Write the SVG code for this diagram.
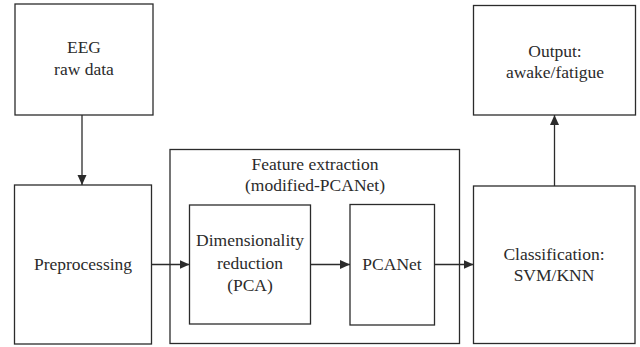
<svg xmlns="http://www.w3.org/2000/svg" width="640" height="347" viewBox="0 0 640 347">
  <style>
    .box { fill: #ffffff; stroke: #2b2b2b; stroke-width: 1.3; }
    text { font-family: "Liberation Serif", "DejaVu Serif", "Times New Roman", serif; font-size: 17.5px; fill: #2b2b2b; text-anchor: middle; }
    .conn { stroke: #2b2b2b; stroke-width: 1.3; fill: none; marker-end: url(#arrow); }
  </style>
  <defs>
    <marker id="arrow" viewBox="0 0 10 10" refX="10" refY="5" markerWidth="10" markerHeight="10" markerUnits="userSpaceOnUse" orient="auto">
      <path d="M0,0.5 L10,5 L0,9.5 Z" fill="#2b2b2b"/>
    </marker>
  </defs>
  <rect width="640" height="347" fill="#ffffff"/>

  <g id="eeg">
    <rect class="box" x="15" y="4" width="138" height="111"/>
    <text x="84" y="53">EEG</text>
    <text x="84" y="75">raw data</text>
  </g>

  <g id="preprocessing">
    <rect class="box" x="14.5" y="185" width="137" height="159"/>
    <text x="83" y="269.5">Preprocessing</text>
  </g>

  <g id="feature-extraction">
    <rect class="box" x="170" y="149.5" width="289.5" height="194"/>
    <text x="315" y="170">Feature extraction</text>
    <text x="315" y="191">(modified-PCANet)</text>
  </g>

  <g id="dim-reduction">
    <rect class="box" x="189.5" y="205" width="121" height="119"/>
    <text x="250" y="246">Dimensionality</text>
    <text x="250" y="269">reduction</text>
    <text x="250" y="291">(PCA)</text>
  </g>

  <g id="pcanet">
    <rect class="box" x="350" y="204.5" width="84.5" height="120.5"/>
    <text x="392" y="269.5">PCANet</text>
  </g>

  <g id="classification">
    <rect class="box" x="473.5" y="186" width="161.5" height="157.5"/>
    <text x="554" y="259.5">Classification:</text>
    <text x="554" y="280.5">SVM/KNN</text>
  </g>

  <g id="output">
    <rect class="box" x="473.5" y="5.5" width="162" height="109.5"/>
    <text x="555" y="57">Output:</text>
    <text x="555" y="78">awake/fatigue</text>
  </g>

  <g id="connectors">
    <line class="conn" x1="82" y1="115" x2="82" y2="185"/>
    <line class="conn" x1="151.5" y1="264.5" x2="189.5" y2="264.5"/>
    <line class="conn" x1="310.5" y1="264.5" x2="350" y2="264.5"/>
    <line class="conn" x1="434.5" y1="264.5" x2="473.5" y2="264.5"/>
    <line class="conn" x1="554.5" y1="186" x2="554.5" y2="115"/>
  </g>
</svg>
